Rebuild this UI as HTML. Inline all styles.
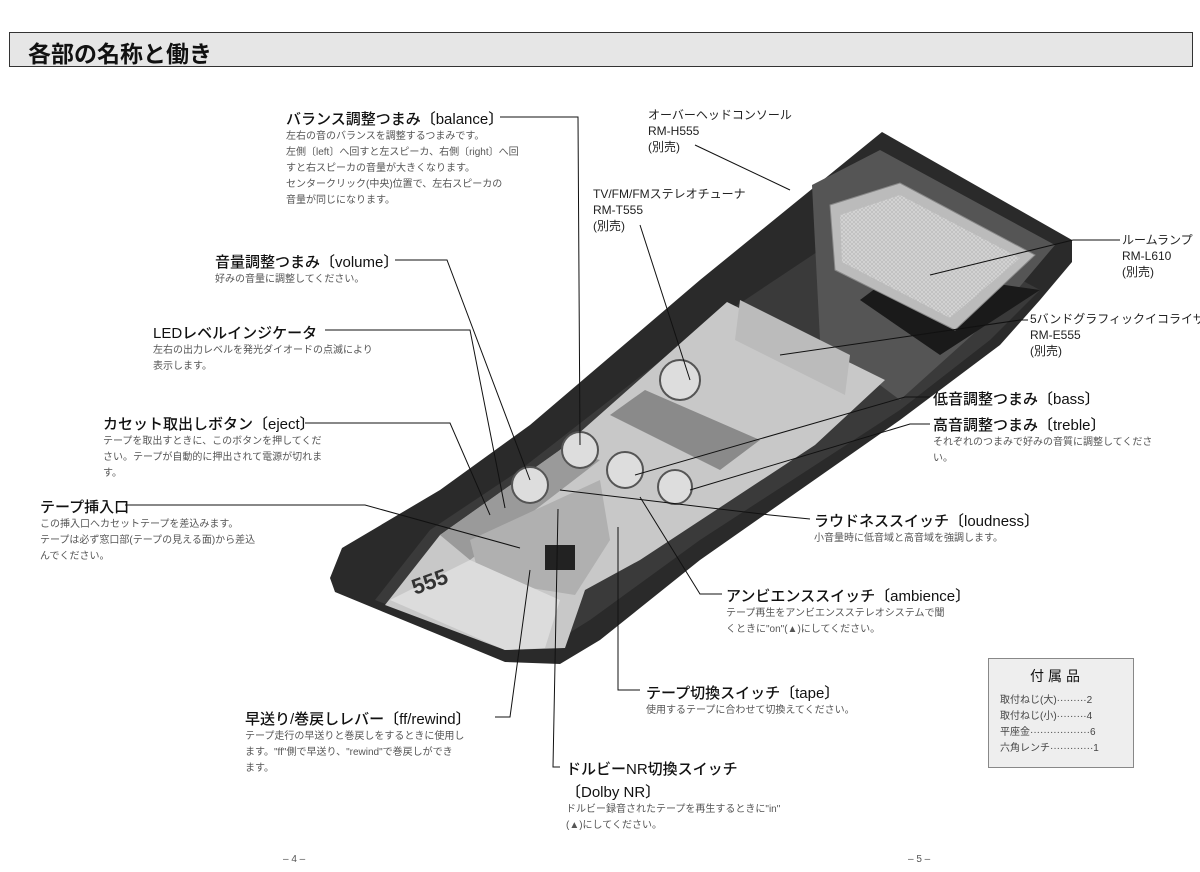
<!DOCTYPE html>
<html><head><meta charset="utf-8">
<style>
body{margin:0;width:1200px;height:872px;background:#fff;position:relative;overflow:hidden;font-family:"Liberation Sans","Noto Sans CJK JP",sans-serif;color:#111}
.t{position:absolute;white-space:nowrap}
.h{font-size:15px;font-weight:500;color:#111}
.b{font-size:10px;line-height:16px;color:#555}
.s{font-size:12px;line-height:16px;color:#222}
</style></head><body>
<div style="position:absolute;left:9px;top:32px;width:1182px;height:33px;border:1px solid #333;background:#e6e6e6"></div>
<div class="t" style="left:28px;top:35px;font-size:23px;font-weight:bold">各部の名称と働き</div>

<svg width="1200" height="872" style="position:absolute;left:0;top:0">
<defs><pattern id="g" width="4" height="4" patternUnits="userSpaceOnUse"><rect width="4" height="4" fill="#d4d4d4"/><path d="M0,0 L4,4 M4,0 L0,4" stroke="#b8b8b8" stroke-width="0.6"/></pattern></defs>
<path d="M330,578 L342,548 L440,490 L530,425 L700,280 L882,132 L1072,240 L1072,262 L1040,300 L1000,345 L900,420 L700,560 L600,640 L560,664 L505,662 L335,592 Z" fill="#2a2a2a"/>
<path d="M375,600 L430,530 L520,470 L700,330 L850,230 L900,215 L1040,290 L990,340 L900,410 L700,540 L590,620 L545,648 L500,648 Z" fill="#3a3a3a"/>
<path d="M812,185 L880,150 L1055,245 L1000,310 L900,400 L820,340 Z" fill="#555"/>
<path d="M385,605 L440,535 L560,450 L727,302 L885,380 L815,445 L640,560 L585,590 L565,648 L505,650 Z" fill="#c8c8c8"/>
<path d="M440,535 L560,450 L600,460 L470,560 Z" fill="#9a9a9a"/>
<path d="M470,540 L600,480 L610,540 L575,595 L480,580 Z" fill="#b0b0b0"/>
<path d="M390,600 L470,560 L560,600 L545,648 L505,650 Z" fill="#dcdcdc"/>
<path d="M610,415 L645,390 L760,440 L720,470 Z" fill="#8a8a8a"/>
<path d="M740,300 L850,355 L845,395 L735,340 Z" fill="#bbb"/>
<path d="M860,300 L900,270 L1040,290 L940,355 Z" fill="#1a1a1a"/>
<path d="M830,205 L900,183 L1035,255 L955,330 L835,270 Z" fill="#bbb" stroke="#888"/>
<path d="M840,215 L900,195 L1020,258 L950,318 L842,262 Z" fill="url(#g)"/>
<g fill="#ddd" stroke="#555" stroke-width="2">
<circle cx="680" cy="380" r="20"/><circle cx="580" cy="450" r="18"/><circle cx="625" cy="470" r="18"/><circle cx="530" cy="485" r="18"/><circle cx="675" cy="487" r="17"/>
</g>
<rect x="545" y="545" width="30" height="25" fill="#222"/>
<text x="415" y="595" font-size="22" font-weight="bold" fill="#333" font-family="Liberation Sans" transform="rotate(-20 415 595)">555</text>
<g stroke="#111" stroke-width="1" fill="none">
<polyline points="500,117 578,117 580,445"/>
<polyline points="395,260 447,260 530,480"/>
<polyline points="325,330 470,330 505,508"/>
<polyline points="305,423 450,423 490,515"/>
<polyline points="125,505 365,505 520,548"/>
<polyline points="495,717 510,717 530,570"/>
<polyline points="560,767 553,767 558,509"/>
<polyline points="640,690 618,690 618,527"/>
<polyline points="722,594 700,594 640,497"/>
<polyline points="810,519 770,515 560,490"/>
<polyline points="930,397 905,397 635,475"/>
<polyline points="930,424 910,424 690,490"/>
<polyline points="1028,320 1020,320 780,355"/>
<polyline points="1120,240 1073,240 930,275"/>
<polyline points="695,145 790,190"/>
<polyline points="640,225 690,380"/>
</g>
</svg>

<div class="t h" style="left:286px;top:108px">バランス調整つまみ〔balance〕</div>
<div class="t b" style="left:286px;top:129px">左右の音のバランスを調整するつまみです。<br>左側〔left〕へ回すと左スピーカ、右側〔right〕へ回<br>すと右スピーカの音量が大きくなります。<br>センタークリック(中央)位置で、左右スピーカの<br>音量が同じになります。</div>
<div class="t h" style="left:215px;top:251px">音量調整つまみ〔volume〕</div>
<div class="t b" style="left:215px;top:272px">好みの音量に調整してください。</div>
<div class="t h" style="left:153px;top:322px">LEDレベルインジケータ</div>
<div class="t b" style="left:153px;top:343px">左右の出力レベルを発光ダイオードの点滅により<br>表示します。</div>
<div class="t h" style="left:103px;top:413px">カセット取出しボタン〔eject〕</div>
<div class="t b" style="left:103px;top:434px">テープを取出すときに、このボタンを押してくだ<br>さい。テープが自動的に押出されて電源が切れま<br>す。</div>
<div class="t h" style="left:40px;top:496px">テープ挿入口</div>
<div class="t b" style="left:40px;top:517px">この挿入口へカセットテープを差込みます。<br>テープは必ず窓口部(テープの見える面)から差込<br>んでください。</div>
<div class="t h" style="left:245px;top:708px">早送り/巻戻しレバー〔ff/rewind〕</div>
<div class="t b" style="left:245px;top:729px">テープ走行の早送りと巻戻しをするときに使用し<br>ます。"ff"側で早送り、"rewind"で巻戻しができ<br>ます。</div>
<div class="t h" style="left:566px;top:758px">ドルビーNR切換スイッチ</div>
<div class="t h" style="left:566px;top:781px">〔Dolby NR〕</div>
<div class="t b" style="left:566px;top:802px">ドルビー録音されたテープを再生するときに"in"<br>(▲)にしてください。</div>
<div class="t h" style="left:646px;top:682px">テープ切換スイッチ〔tape〕</div>
<div class="t b" style="left:646px;top:703px">使用するテープに合わせて切換えてください。</div>
<div class="t h" style="left:726px;top:585px">アンビエンススイッチ〔ambience〕</div>
<div class="t b" style="left:726px;top:606px">テープ再生をアンビエンスステレオシステムで聞<br>くときに"on"(▲)にしてください。</div>
<div class="t h" style="left:814px;top:510px">ラウドネススイッチ〔loudness〕</div>
<div class="t b" style="left:814px;top:531px">小音量時に低音域と高音域を強調します。</div>
<div class="t h" style="left:933px;top:388px">低音調整つまみ〔bass〕</div>
<div class="t h" style="left:933px;top:414px">高音調整つまみ〔treble〕</div>
<div class="t b" style="left:933px;top:435px">それぞれのつまみで好みの音質に調整してくださ<br>い。</div>
<div class="t s" style="left:1030px;top:311px">5バンドグラフィックイコライザ<br>RM-E555<br>(別売)</div>
<div class="t s" style="left:1122px;top:232px">ルームランプ<br>RM-L610<br>(別売)</div>
<div class="t s" style="left:648px;top:107px">オーバーヘッドコンソール<br>RM-H555<br>(別売)</div>
<div class="t s" style="left:593px;top:186px">TV/FM/FMステレオチューナ<br>RM-T555<br>(別売)</div>

<div style="position:absolute;left:988px;top:658px;width:144px;height:108px;border:1px solid #888;background:#eee"></div>
<div class="t" style="left:1030px;top:666px;font-size:14px;letter-spacing:4px">付属品</div>
<div class="t b" style="left:1000px;top:693px;color:#444">取付ねじ(大)·········2<br>取付ねじ(小)·········4<br>平座金··················6<br>六角レンチ·············1</div>
<div class="t b" style="left:283px;top:852px">– 4 –</div>
<div class="t b" style="left:908px;top:852px">– 5 –</div>
</body></html>
